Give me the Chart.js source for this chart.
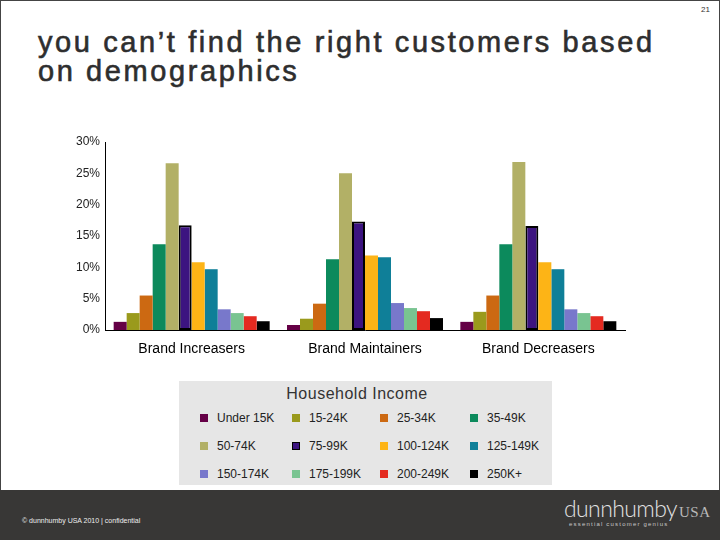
<!DOCTYPE html>
<html>
<head>
<meta charset="utf-8">
<script src="https://cdn.jsdelivr.net/npm/chart.js@4"></script>
<style>
  html, body { margin: 0; padding: 0; }
  body { width: 720px; height: 540px; position: relative; overflow: hidden; background: #fff;
         font-family: "Liberation Sans", Arial, sans-serif; }
  #frame { position: absolute; left: 0; top: 0; width: 718px; height: 490px; border: 1px solid #444; border-bottom: none; }
  #pagenum { position: absolute; right: 10px; top: 5px; font-size: 8px; color: #333; }
  #title { position: absolute; left: 38px; top: 28px; font-size: 29px; line-height: 29px; letter-spacing: 2.6px;
           color: #2e2e2e; -webkit-text-stroke: 0.6px #2e2e2e; }
  #chartbox { position: absolute; left: 0; top: 120px; width: 720px; height: 250px; }
  #legend { position: absolute; left: 179px; top: 381px; width: 373px; height: 104px; background: #e6e6e6; }
  #legend .ttl { position: absolute; left: 0; width: 356px; top: 4px; text-align: center; font-size: 16px;
                 letter-spacing: 0.5px; color: #333; }
  #legend .item { position: absolute; font-size: 12px; color: #222; line-height: 14px; white-space: nowrap; }
  #legend .sw { position: absolute; left: 0; top: 3px; width: 8px; height: 8px; box-sizing: border-box; }
  #legend .lbl { position: absolute; left: 17px; top: 0; }
  #footer { position: absolute; left: 0; top: 490px; width: 720px; height: 50px; background: #383736; }
  #copy { position: absolute; left: 22px; top: 27px; font-size: 7px; color: #eee; }
  #logo { position: absolute; left: 564px; top: 4px; color: #e2e2e2; font-family: Lato, "Liberation Sans", sans-serif;
          font-weight: 300; font-size: 23px; letter-spacing: -0.6px; }
  #logo .usa { font-family: "Liberation Serif", serif; font-size: 15px; color: #b8b8b8; letter-spacing: 0.5px; margin-left: 2px; }
  #tag { position: absolute; left: 569px; top: 31px; font-size: 6px; letter-spacing: 1.2px; color: #c8c8c8; }
</style>
</head>
<body>
<div id="frame"></div>
<div id="pagenum">21</div>
<div id="title">you can’t find the right customers based<br>on demographics</div>
<div id="chartbox"><canvas id="chart"></canvas></div>
<div id="legend"><div class="ttl">Household Income</div></div>
<div id="footer">
  <div id="copy">© dunnhumby USA 2010 | confidential</div>
  <div id="logo">dunnhumby<span class="usa">USA</span></div>
  <div id="tag">essential customer genius</div>
</div>

<script>
// segments
const segments = ["Brand Increasers", "Brand Maintainers", "Brand Decreasers"];

// income bands
const incomeBands = ["Under 15K", "15-24K", "25-34K", "35-49K", "50-74K", "75-99K",
                     "100-124K", "125-149K", "150-174K", "175-199K", "200-249K", "250K+"];

// share of households (%) per band, one value per segment
const under15   = [1.3, 0.8, 1.3];
const inc15_24  = [2.7, 1.8, 2.9];
const inc25_34  = [5.5, 4.2, 5.5];
const inc35_49  = [13.7, 11.3, 13.7];
const inc50_74  = [26.6, 25.0, 26.8];
const inc75_99  = [16.7, 17.3, 16.6];
const inc100_124 = [10.8, 11.9, 10.8];
const inc125_149 = [9.7, 11.6, 9.7];
const inc150_174 = [3.3, 4.3, 3.3];
const inc175_199 = [2.7, 3.5, 2.7];
const inc200_249 = [2.2, 3.0, 2.2];
const inc250plus = [1.4, 1.9, 1.4];

// y axis ticks
const yTicks = [0, 5, 10, 15, 20, 25, 30];

const series = [under15, inc15_24, inc25_34, inc35_49, inc50_74, inc75_99,
                inc100_124, inc125_149, inc150_174, inc175_199, inc200_249, inc250plus];

const palette = ["#650046", "#9a9a1c", "#cc6912", "#0c8a5c", "#b2b066", "#3c1480",
                 "#fdb416", "#0f7f98", "#7878cb", "#79c491", "#e42a20", "#000000"];

const datasets = series.map((vals, i) => ({
  label: incomeBands[i],
  data: vals,
  backgroundColor: palette[i],
  borderColor: "#000",
  borderWidth: incomeBands[i] === "75-99K" ? 2 : 0,
  borderSkipped: false,
  categoryPercentage: 0.9,
  barPercentage: 1.0
}));

const chart = new Chart(document.getElementById("chart"), {
  type: "bar",
  data: { labels: segments, datasets: datasets },
  options: {
    responsive: true,
    maintainAspectRatio: false,
    animation: false,
    layout: { padding: { top: 22, right: 95, bottom: 0, left: 0 } },
    plugins: { legend: { display: false }, tooltip: { enabled: false } },
    scales: {
      x: {
        grid: { display: false, drawTicks: false },
        border: { display: true, color: "#000", width: 1 },
        ticks: { color: "#000", font: { family: "Liberation Sans", size: 14 }, padding: 11 },
        afterFit: s => { s.height = 40; }
      },
      y: {
        min: 0, max: 30,
        afterBuildTicks: s => { s.ticks = yTicks.map(v => ({ value: v })); },
        grid: { display: false, drawTicks: false },
        border: { display: true, color: "#000", width: 1 },
        ticks: { color: "#222", font: { family: "Liberation Sans", size: 12 }, padding: 5,
                 callback: v => v + "%" },
        afterFit: s => { s.width = 105; }
      }
    }
  }
});

// legend grid (4 columns x 3 rows) built from the chart's own legend items
const colX = [21, 113, 201, 291];
const rowY = [30, 58, 86];
const legendBox = document.getElementById("legend");
Chart.defaults.plugins.legend.labels.generateLabels(chart).forEach((item, i) => {
  const el = document.createElement("div");
  el.className = "item";
  el.style.left = colX[i % 4] + "px";
  el.style.top = rowY[Math.floor(i / 4)] + "px";
  const sw = document.createElement("span");
  sw.className = "sw";
  sw.style.background = item.fillStyle;
  if (item.lineWidth > 0) sw.style.border = "1.5px solid " + item.strokeStyle;
  const lbl = document.createElement("span");
  lbl.className = "lbl";
  lbl.textContent = item.text;
  el.appendChild(sw);
  el.appendChild(lbl);
  legendBox.appendChild(el);
});
</script>
</body>
</html>
